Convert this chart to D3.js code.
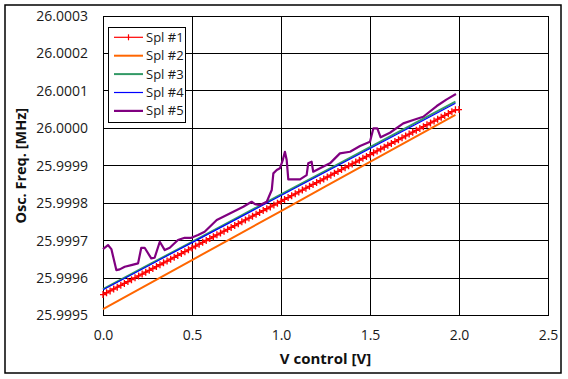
<!DOCTYPE html>
<html><head><meta charset="utf-8">
<script src="https://cdn.jsdelivr.net/npm/d3@7"></script>
<style>body{margin:0;background:#fff}svg{display:block}</style>
</head><body><svg id="c" width="568" height="379"></svg>
<script>
const seriesNames = ["Spl #1","Spl #2","Spl #3","Spl #4","Spl #5"];
const seriesColors = ["#ff0000","#ff6600","#339966","#0000ff","#800080"];
const xTicks = [0,0.5,1.0,1.5,2.0,2.5];
const yTicks = [25.9995,25.9996,25.9997,25.9998,25.9999,26.0000,26.0001,26.0002,26.0003];

// Spl #1 sampled every 0.02 V from 0 to 2.0 V
const vSpl1 = d3.range(0,101).map(i=>i*0.02);
const spl1 = [25.9995558,25.9995608,25.9995657,25.9995708,25.9995757,25.9995807,25.9995857,25.9995907,25.9995957,25.9996007,
25.9996057,25.9996106,25.9996156,25.9996206,25.9996256,25.9996306,25.9996356,25.9996406,25.9996455,25.9996505,
25.9996555,25.9996605,25.9996655,25.9996705,25.9996755,25.9996805,25.9996854,25.9996904,25.9996954,25.9997004,
25.9997054,25.9997104,25.9997154,25.9997203,25.9997253,25.9997303,25.9997353,25.9997403,25.9997453,25.9997503,
25.9997552,25.9997602,25.9997652,25.9997702,25.9997752,25.9997802,25.9997852,25.9997901,25.9997951,25.9998001,
25.9998051,25.9998101,25.9998151,25.9998201,25.9998250,25.9998300,25.9998350,25.9998400,25.9998450,25.9998500,
25.9998550,25.9998599,25.9998649,25.9998699,25.9998749,25.9998799,25.9998849,25.9998898,25.9998948,25.9998998,
25.9999048,25.9999098,25.9999148,25.9999198,25.9999247,25.9999297,25.9999347,25.9999397,25.9999447,25.9999497,
25.9999547,25.9999596,25.9999646,25.9999696,25.9999746,25.9999796,25.9999846,25.9999896,25.9999945,25.9999995,
26.0000045,26.0000095,26.0000145,26.0000194,26.0000244,26.0000294,26.0000344,26.0000394,26.0000444,26.0000494,
26.0000500];

const vLin = [0,0.25,0.5,0.75,1.0,1.25,1.5,1.75,1.98];
const spl2 = [25.9995171,25.9995826,25.9996481,25.9997136,25.9997791,25.9998446,25.9999101,25.9999756,26.0000357];
const spl3 = [25.9995705,25.9996337,25.9996969,25.9997601,25.9998233,25.9998865,25.9999497,26.0000129,26.0000710];
const spl4 = [25.9995690,25.9996318,25.9996947,25.9997575,25.9998204,25.9998832,25.9999461,26.0000089,26.0000667];

const vSpl5 = [0.000,0.028,0.047,0.075,0.094,0.122,0.159,0.197,0.215,0.234,0.271,0.290,0.319,0.347,0.375,0.421,0.459,0.496,0.534,0.571,
0.639,0.732,0.788,0.835,0.854,0.882,0.920,0.948,0.957,0.976,0.994,1.010,1.022,1.032,1.041,1.107,1.144,1.153,1.172,1.181,
1.219,1.275,1.331,1.388,1.444,1.500,1.519,1.541,1.560,1.612,1.687,1.743,1.799,1.875,1.931,1.983];
const spl5 = [25.9996774,25.9996881,25.9996774,25.9996213,25.9996232,25.9996301,25.9996347,25.9996392,25.9996809,25.9996809,
25.9996526,25.9996542,25.9996969,25.9996747,25.9996809,25.9997015,25.9997076,25.9997076,25.9997148,25.9997236,
25.9997549,25.9997771,25.9997904,25.9998038,25.9997977,25.9997950,25.9998038,25.9998351,25.9998797,25.9998885,
25.9998931,25.9999152,25.9999374,25.9999152,25.9998637,25.9998637,25.9998751,25.9999064,25.9999107,25.9998840,
25.9998931,25.9999064,25.9999331,25.9999374,25.9999526,25.9999641,25.9999999,25.9999999,25.9999759,25.9999882,
26.0000133,26.0000221,26.0000309,26.0000595,26.0000774,26.0000916];

const svg = d3.select("#c");
const L=103, R=548, T=16, B=315.5;
const x = d3.scaleLinear().domain([0,2.5]).range([L,R]);
const y = d3.scaleLinear().domain([25.9995,26.0003]).range([B,T]);
const font = "'Open Sans', 'Noto Sans', sans-serif";

svg.append("rect").attr("x",5).attr("y",5).attr("width",556).attr("height",368)
  .attr("fill","#fff").attr("stroke","#000").attr("stroke-width",1.5);

// grid
const g = svg.append("g").attr("stroke","#000").attr("stroke-width",1).attr("shape-rendering","crispEdges");
xTicks.forEach(t=>g.append("line").attr("x1",x(t)).attr("x2",x(t)).attr("y1",T).attr("y2",B));
yTicks.forEach(t=>g.append("line").attr("x1",L).attr("x2",R).attr("y1",y(t)).attr("y2",y(t)));

// axes labels
const ax = svg.append("g").attr("transform",`translate(0,${B})`)
  .call(d3.axisBottom(x).tickValues(xTicks).tickFormat(d3.format(".1f")).tickSize(0).tickPadding(15));
const ay = svg.append("g").attr("transform",`translate(${L},0)`)
  .call(d3.axisLeft(y).tickValues(yTicks).tickFormat(d3.format(".4f")).tickSize(0).tickPadding(15));
[ax,ay].forEach(a=>{a.select(".domain").remove();
  a.selectAll("text").attr("font-family",font).attr("font-size","14px").attr("fill","#1a1a1a");});

svg.append("text").attr("x",(L+R)/2).attr("y",364).attr("text-anchor","middle")
  .attr("font-family",font).attr("font-size","15px").attr("font-weight","bold").attr("fill","#111")
  .text("V control [V]");
svg.append("text").attr("transform",`translate(26,${(T+B)/2}) rotate(-90)`).attr("text-anchor","middle")
  .attr("font-family",font).attr("font-size","14.5px").attr("font-weight","bold").attr("fill","#111")
  .text("Osc. Freq. [MHz]");

const line = d3.line().x(d=>x(d[0])).y(d=>y(d[1]));
const zip = (a,b)=>a.map((v,i)=>[v,b[i]]);
const data = [zip(vSpl1,spl1), zip(vLin,spl2), zip(vLin,spl3), zip(vLin,spl4), zip(vSpl5,spl5)];
const widths = [1.4,2,2,1.2,2.2];
const plot = svg.append("g");
// red markers
plot.append("g").selectAll("path").data(data[0]).join("path")
  .attr("d",d=>`M${x(d[0])-3},${y(d[1])}h6M${x(d[0])},${y(d[1])-3.5}v7`)
  .attr("stroke",seriesColors[0]).attr("stroke-width",1.3).attr("fill","none");
data.forEach((d,i)=>{
  plot.append("path").attr("d",line(d)).attr("fill","none")
    .attr("stroke",seriesColors[i]).attr("stroke-width",widths[i]).attr("stroke-linejoin","round");
});

// legend
const lg = svg.append("g");
lg.append("rect").attr("x",108.5).attr("y",27.5).attr("width",77).attr("height",95)
  .attr("fill","#fff").attr("stroke","#000").attr("stroke-width",1);
seriesNames.forEach((n,i)=>{
  const cy = 37.3 + i*18.4;
  lg.append("line").attr("x1",114).attr("x2",143).attr("y1",cy).attr("y2",cy)
    .attr("stroke",seriesColors[i]).attr("stroke-width",i===0?1.2:widths[i]);
  if(i===0) lg.append("path").attr("d",`M128.5,${cy-3}v6`).attr("stroke",seriesColors[0]).attr("stroke-width",1.2);
  lg.append("text").attr("x",146).attr("y",cy+4.5).attr("font-family",font).attr("font-size","13px")
    .attr("fill","#1a1a1a").text(n);
});
</script></body></html>
